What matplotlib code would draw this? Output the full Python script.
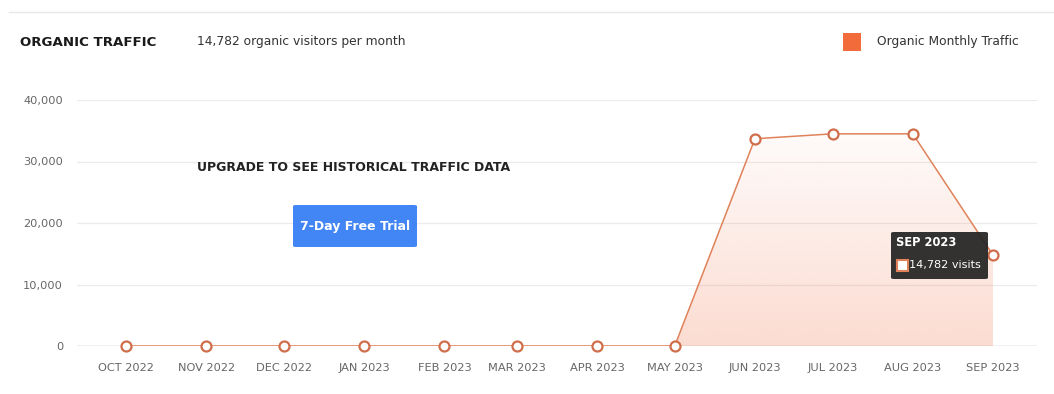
import numpy as np
import pandas as pd
import matplotlib; matplotlib.use("Agg")
import matplotlib.pyplot as plt
import matplotlib.dates as mdates
from matplotlib.patches import Rectangle, FancyBboxPatch
from matplotlib.ticker import FuncFormatter

months = ["OCT 2022", "NOV 2022", "DEC 2022", "JAN 2023", "FEB 2023", "MAR 2023",
          "APR 2023", "MAY 2023", "JUN 2023", "JUL 2023", "AUG 2023", "SEP 2023"]
visits = [0, 0, 0, 0, 0, 0, 0, 0, 33700, 34500, 34500, 14782]
yticks = [0, 10000, 20000, 30000, 40000]

ORANGE = "#F26B3A"; LINE = "#E0825A"; MARK = "#CF6E4A"; GRID = "#EBEBEB"; TXT = "#666666"
W, H = 1054, 394

dates = pd.to_datetime(months, format="%b %Y")
x = mdates.date2num(dates)

def fx(px): return px / W
def fy(py): return 1 - py / H

fig = plt.figure(figsize=(W / 100, H / 100), dpi=100)
ax = fig.add_axes([fx(77), fy(346), (1037 - 77) / W, (346 - 100) / H])

for s in ax.spines.values():
    s.set_visible(False)
ax.set_yticks(yticks)
ax.yaxis.set_major_formatter(FuncFormatter(lambda v, p: f"{int(v):,}"))
ax.set_xticks(x)
ax.set_xticklabels(months)
ax.tick_params(length=0, colors=TXT, labelsize=8.2)
ax.tick_params(axis="y", pad=10)
ax.tick_params(axis="x", pad=12)
ax.grid(axis="y", color=GRID, lw=0.9)
ax.set_axisbelow(True)
ax.axhline(0, color="#BBBBBB", lw=1, zorder=1)

# gradient fill under the line
poly = ax.fill_between(x, visits, 0, color="none", lw=0)
grad = np.linspace(0.26, 0.03, 256).reshape(-1, 1)
rgba = np.zeros((256, 1, 4))
rgba[..., :3] = np.array([242, 120, 80]) / 255
rgba[..., 3] = grad
im = ax.imshow(rgba, extent=[x[0], x[-1], 0, max(visits)], origin="lower",
               aspect="auto", zorder=1)
im.set_clip_path(poly.get_paths()[0], transform=ax.transData)
ax.set_xlim(x[0] - 19, x[-1] + 17)
ax.set_ylim(0, 40000)

ax.plot(x, visits, color=LINE, lw=1.1, zorder=3)
ax.plot(x, visits, "o", ms=7.2, mfc="white", mec=MARK, mew=1.6, zorder=4, clip_on=False)

# header
fig.add_artist(plt.Line2D([fx(9), 1], [fy(12), fy(12)], color="#E8E8E8", lw=1))
fig.text(fx(20), fy(42), "ORGANIC TRAFFIC", fontsize=9.6, weight="bold", color="#1a1a1a",
         va="center", ha="left", family="DejaVu Sans")
fig.text(fx(197), fy(42), "14,782 organic visitors per month", fontsize=8.8, color="#333333",
         va="center", ha="left")
fig.add_artist(Rectangle((fx(843), fy(51)), 18 / W, 18 / H, transform=fig.transFigure,
                         color=ORANGE, lw=0))
fig.text(fx(877), fy(42), "Organic Monthly Traffic", fontsize=8.8, color="#333333",
         va="center", ha="left")

# upgrade overlay
fig.text(fx(197), fy(168), "UPGRADE TO SEE HISTORICAL TRAFFIC DATA", fontsize=9.0,
         weight="bold", color="#222222", va="center", ha="left", family="DejaVu Sans")
fig.add_artist(FancyBboxPatch((fx(293), fy(247)), 124 / W, 42 / H, transform=fig.transFigure,
                              boxstyle="round,pad=0,rounding_size=0.003", color="#4285F4", lw=0))
fig.text(fx(355), fy(226), "7-Day Free Trial", fontsize=9.0, color="white", weight="bold",
         va="center", ha="center")

# tooltip
fig.add_artist(FancyBboxPatch((fx(891), fy(279)), 97 / W, 47 / H, transform=fig.transFigure,
                              boxstyle="round,pad=0,rounding_size=0.003", color="#222222",
                              alpha=0.92, lw=0, zorder=5))
fig.text(fx(896), fy(243), "SEP 2023", fontsize=8.3, color="white", weight="bold",
         va="center", ha="left", zorder=6)
fig.add_artist(Rectangle((fx(897), fy(271)), 11 / W, 11 / H, transform=fig.transFigure,
                         fc="white", ec=LINE, lw=1.5, zorder=6))
fig.text(fx(909), fy(265), "14,782 visits", fontsize=8.1, color="white",
         va="center", ha="left", zorder=6)

fig.savefig("out.png", dpi=100, facecolor="white")
